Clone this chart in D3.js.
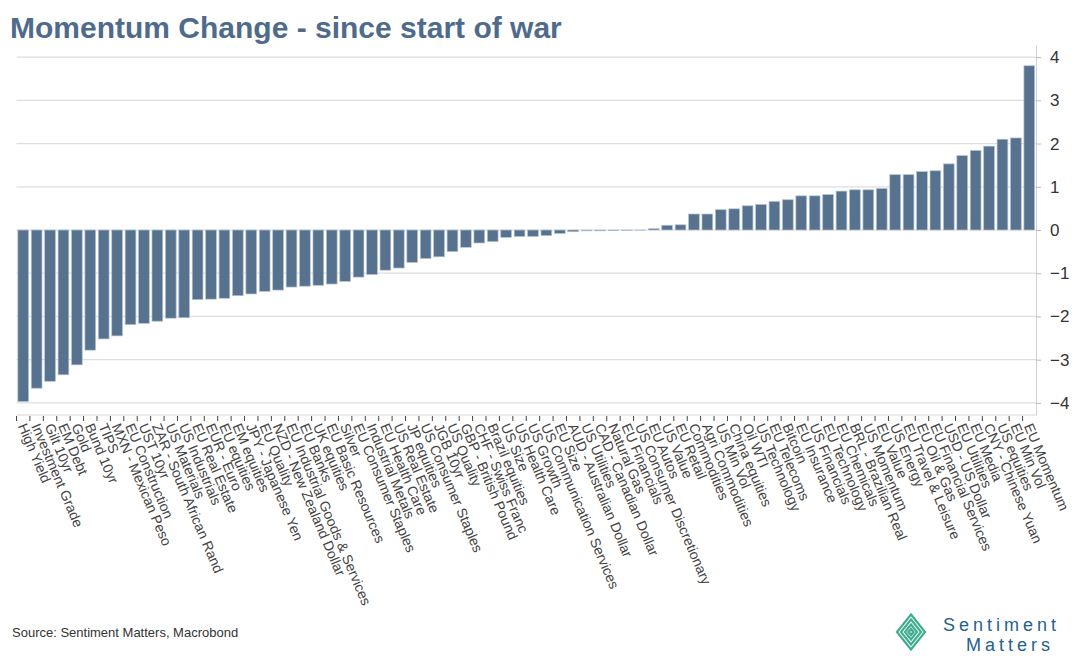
<!DOCTYPE html>
<html>
<head>
<meta charset="utf-8">
<script src="https://cdn.jsdelivr.net/npm/d3@7"></script>
<style>
  body { margin: 0; background: #fff; }
  svg { font-family: "Liberation Sans", Arial, sans-serif; }
</style>
</head>
<body>
<div id="chart"></div>
<script>
const width = 1072;
const height = 660;

// categories, left to right (sorted by change)
const categories = [
  "High Yield", "Investment Grade", "Gilt 10yr", "EM Debt", "Gold", "Bund 10yr", "TIPS",
  "MXN - Mexican Peso", "EU Construction", "UST 10yr", "ZAR - South African Rand",
  "US Materials", "US Industrials", "EU Real Estate", "EUR - Euro", "EU equities",
  "EM equities", "JPY - Japanese Yen", "EU Quality", "NZD - New Zealand Dollar",
  "EU Industrial Goods & Services", "EU Banks", "UK equities", "EU Basic Resources",
  "Silver", "EU Consumer Staples", "Industrial Metals", "EU Health Care", "US Real Estate",
  "JP equities", "US Consumer Staples", "JGB 10yr", "US Quality", "GBP - British Pound",
  "CHF - Swiss Franc", "Brazil equities", "US Size", "US Health Care", "US Growth",
  "US Communication Services", "EU Size", "AUD - Australian Dollar", "US Utilities",
  "CAD - Canadian Dollar", "Natural Gas", "EU Financials", "US Consumer Discretionary",
  "EU Autos", "US Value", "EU Retail", "Commodities", "Agri Commodities", "US Min Vol",
  "China equities", "Oil WTI", "US Technology", "EU Telecoms", "Bitcoin", "EU Insurance",
  "US Financials", "EU Technology", "EU Chemicals", "BRL - Brazilian Real", "US Momentum",
  "EU Value", "US Energy", "EU Travel & Leisure", "EU Oil & Gas", "EU Financial Services",
  "USD - US Dollar", "EU Utilities", "EU Media", "CNY - Chinese Yuan", "US equities",
  "EU Min Vol", "EU Momentum"
];

// momentum change values
const values = [
  -3.97, -3.66, -3.50, -3.35, -3.12, -2.78, -2.52,
  -2.45, -2.19, -2.16, -2.11,
  -2.04, -2.03, -1.61, -1.60, -1.58,
  -1.52, -1.48, -1.42, -1.39,
  -1.32, -1.30, -1.28, -1.25,
  -1.19, -1.09, -1.03, -0.93, -0.88,
  -0.75, -0.66, -0.62, -0.50, -0.40,
  -0.30, -0.27, -0.17, -0.15, -0.15,
  -0.13, -0.08, -0.04, -0.02,
  -0.02, -0.015, -0.01, -0.004,
  0.03, 0.11, 0.12, 0.37, 0.37, 0.47,
  0.49, 0.56, 0.59, 0.66, 0.70, 0.79,
  0.79, 0.82, 0.90, 0.93, 0.93,
  0.96, 1.28, 1.28, 1.35, 1.37,
  1.53, 1.72, 1.84, 1.94, 2.10,
  2.13, 3.80
];

const yTicks = [-4, -3, -2, -1, 0, 1, 2, 3, 4];

const data = categories.map((c, i) => ({ name: c, value: values[i] }));

const svg = d3.select("#chart")
  .append("svg")
  .attr("width", width)
  .attr("height", height);

const plotLeft = 16.5;
const plotRight = 1036;
const plotTop = 45;
const plotBottom = 415;

const x = d3.scaleBand()
  .domain(categories)
  .range([plotLeft, plotRight])
  .paddingInner(0.2)
  .paddingOuter(0.1);

const y = d3.scaleLinear()
  .domain([-4.28, 4.28])
  .range([plotBottom, plotTop]);

// title
svg.append("text")
  .attr("x", 10)
  .attr("y", 38)
  .style("font-size", "30px")
  .style("font-weight", "bold")
  .style("fill", "#4f6b8c")
  .text("Momentum Change - since start of war");

// gridlines
svg.append("g")
  .selectAll("line")
  .data(yTicks)
  .enter()
  .append("line")
  .attr("x1", plotLeft)
  .attr("x2", plotRight)
  .attr("y1", d => y(d))
  .attr("y2", d => y(d))
  .attr("stroke", "#dedede")
  .attr("stroke-width", 1.2);

// bottom axis line
svg.append("line")
  .attr("x1", plotLeft)
  .attr("x2", plotRight)
  .attr("y1", plotBottom)
  .attr("y2", plotBottom)
  .attr("stroke", "#d6d6d6");

// bars
svg.append("g")
  .selectAll("rect")
  .data(data)
  .enter()
  .append("rect")
  .attr("x", d => x(d.name))
  .attr("width", x.bandwidth())
  .attr("y", d => y(Math.max(0, d.value)))
  .attr("height", d => Math.abs(y(d.value) - y(0)))
  .attr("fill", "#57728f")
  .attr("stroke", "#b4c2d1")
  .attr("stroke-width", 0.7);

// category ticks at band boundaries
const half = x.step() * x.paddingInner() / 2;
svg.append("g")
  .selectAll("line")
  .data(categories)
  .enter()
  .append("line")
  .attr("x1", d => x(d) - half)
  .attr("x2", d => x(d) - half)
  .attr("y1", plotBottom + 1)
  .attr("y2", plotBottom + 6)
  .attr("stroke", "#444")
  .attr("stroke-width", 1);

// category labels
svg.append("g")
  .selectAll("text")
  .data(categories)
  .enter()
  .append("text")
  .attr("transform", d => `translate(${x(d) + x.bandwidth() / 2 - 1},${plotBottom + 9}) rotate(67)`)
  .attr("dy", "0.35em")
  .style("font-size", "14px")
  .style("fill", "#444")
  .text(d => d);

// right axis
const yAxis = d3.axisRight(y)
  .tickValues(yTicks)
  .tickSize(5)
  .tickSizeOuter(0)
  .tickPadding(9);

const gy = svg.append("g")
  .attr("transform", `translate(${plotRight},0)`)
  .call(yAxis);

gy.select(".domain").attr("stroke", "#d0d0d0");
gy.selectAll(".tick line").attr("stroke", "#bbb");
gy.selectAll(".tick text")
  .style("font-size", "17px")
  .style("font-family", "Liberation Sans, Arial, sans-serif")
  .attr("fill", "#333");

// source note
svg.append("text")
  .attr("x", 12)
  .attr("y", 637)
  .style("font-size", "13px")
  .style("fill", "#333")
  .text("Source: Sentiment Matters, Macrobond");

// logo
const logo = svg.append("g").attr("transform", "translate(911,632)");
[17.5, 12.5, 7.5, 3].forEach((r, i) => {
  logo.append("path")
    .attr("d", `M0,${-r} L${r * 0.8},0 L0,${r} L${-r * 0.8},0 Z`)
    .attr("fill", "none")
    .attr("stroke", "#3fae8e")
    .attr("stroke-width", i === 3 ? 2.5 : 2.2);
});

svg.append("text")
  .attr("x", 943)
  .attr("y", 631)
  .style("font-size", "18px")
  .style("letter-spacing", "4px")
  .style("fill", "#24618e")
  .text("Sentiment");

svg.append("text")
  .attr("x", 966)
  .attr("y", 651)
  .style("font-size", "18px")
  .style("letter-spacing", "4px")
  .style("fill", "#24618e")
  .text("Matters");
</script>
</body>
</html>
